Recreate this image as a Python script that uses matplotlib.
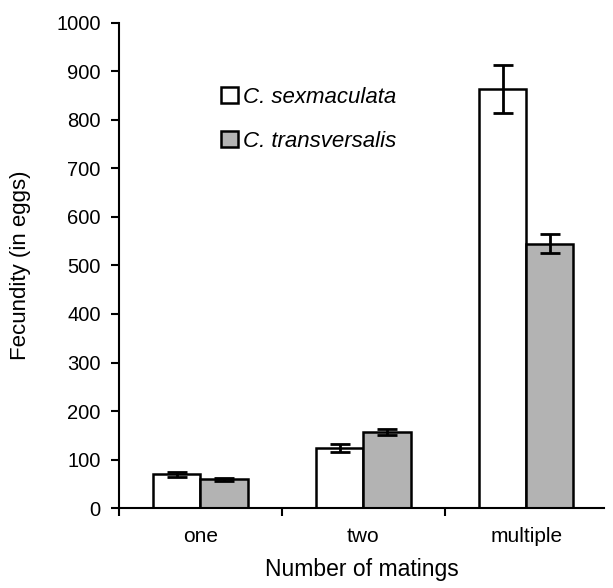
import matplotlib.pyplot as plt
import numpy as np

plt.rcParams['font.family'] = ['Liberation Sans', 'DejaVu Sans']

groups = ['one', 'two', 'multiple']
sexmaculata = [70, 123, 864]
sexmaculata_err = [5, 8, 50]
transversalis = [59, 157, 545]
transversalis_err = [3, 6, 20]

fig = plt.figure(figsize=(6.13, 5.88), dpi=100)
ax = fig.add_axes([0.194, 0.136, 0.792, 0.825])

x = np.arange(len(groups))
w = 0.29
ax.bar(x - w/2, sexmaculata, w, color='white', edgecolor='black', linewidth=1.8,
       label='C. sexmaculata')
ax.bar(x + w/2, transversalis, w, color='#b3b3b3', edgecolor='black', linewidth=1.8,
       label='C. transversalis')
ax.errorbar(x - w/2, sexmaculata, yerr=sexmaculata_err, fmt='none', ecolor='black',
            elinewidth=2, capsize=7, capthick=2)
ax.errorbar(x + w/2, transversalis, yerr=transversalis_err, fmt='none', ecolor='black',
            elinewidth=2, capsize=7, capthick=2)

ax.set_xlim(-0.5, 2.48)
ax.set_ylim(0, 1000)
ax.set_yticks(range(0, 1001, 100))
ax.set_xticks(x)
ax.set_xticklabels(groups)
ax.set_xticks([-0.5, 0.5, 1.5], minor=True)
ax.tick_params(axis='x', which='major', length=0, pad=14, labelsize=15)
ax.tick_params(axis='x', which='minor', length=6, width=1.5, direction='out')
ax.tick_params(axis='y', length=6, width=1.5, direction='out', labelsize=14.5, pad=7)
for s in ['top', 'right']:
    ax.spines[s].set_visible(False)
for s in ['left', 'bottom']:
    ax.spines[s].set_linewidth(1.5)

ax.set_xlabel('Number of matings', fontsize=16.5, labelpad=8)
ax.set_ylabel('Fecundity (in eggs)', fontsize=16, labelpad=18)

leg = ax.legend(loc='upper left', bbox_to_anchor=(0.17, 0.91), frameon=False,
                handlelength=0.75, handleheight=0.75, handletextpad=0.2,
                labelspacing=1.05, prop={'style': 'italic', 'size': 16})

fig.savefig('out.png', dpi=100)
